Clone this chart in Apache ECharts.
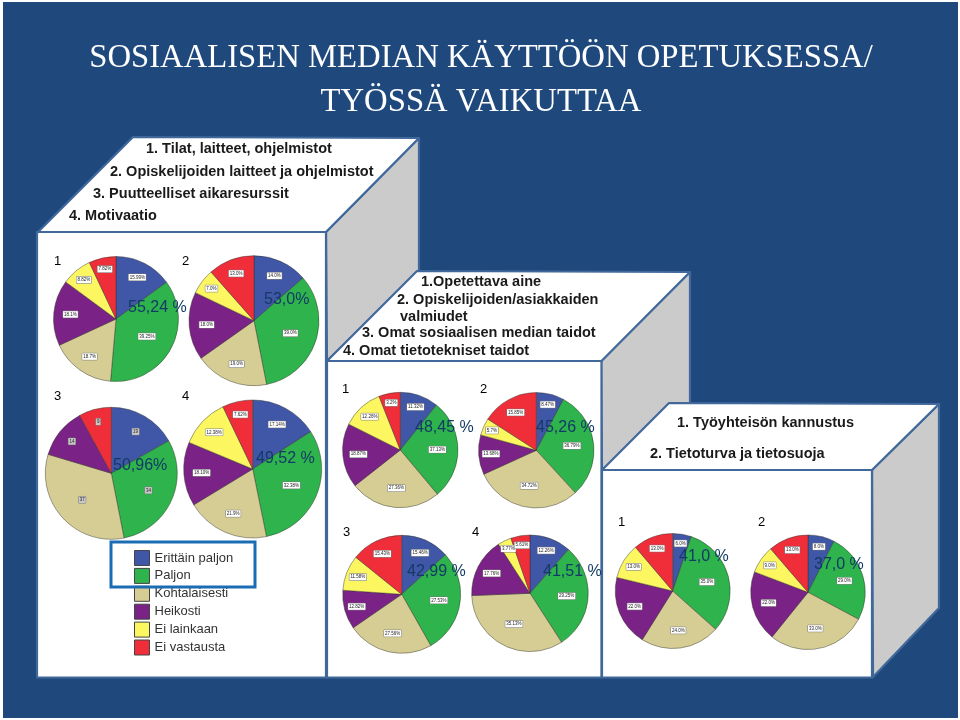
<!DOCTYPE html>
<html><head><meta charset="utf-8">
<style>html,body{margin:0;padding:0;background:#fff}#c{width:960px;height:720px}</style>
<script src="https://cdn.jsdelivr.net/npm/echarts@6/dist/echarts.min.js"></script>
</head><body><div id="c"></div>
<script>
const categories = ['Erittäin paljon','Paljon','Kohtalaisesti','Heikosti','Ei lainkaan','Ei vastausta'];
const colors = ['#3f57a6','#2fb34c','#d6cd95','#7a2285','#fcf660','#ef2e3a'];

// Slice values, one list per pie
const tilat1 = [15.0,36.4,16.7,17.0,7.9,7.0];
const tilat2 = [13.6,33.3,18.3,16.9,6.4,11.5];
const tilat3 = [19,34,37,14,0,9];
const tilat4 = [15.9,30.9,19.5,15.0,11.6,7.1];
const taidot1 = [10.8,28.1,25.5,18.0,11.6,6.0];
const taidot2 = [7.8,30.4,30.0,11.1,4.8,15.9];
const taidot3 = [13.3,28.5,23.6,10.7,9.7,14.2];
const taidot4 = [11.5,29.4,33.5,16.5,3.8,5.3];
const yhteiso1 = [5.2,31.4,22.3,19.9,10.0,11.2];
const yhteiso2 = [7.5,25.3,28.0,20.0,7.9,11.3];

// Small slice labels as printed on the pies
const labels1 = ['15.99%','39.25%','18.7%','18.1%','8.82%','7.82%'];
const labels2 = ['14.0%','39.0%','19.0%','18.0%','7.0%','13.0%'];
const labels3 = ['19','34','37','14','','9'];
const labels4 = ['17.14%','32.38%','21.9%','18.10%','12.38%','7.62%'];
const labels5 = ['11.32%','37.13%','27.36%','18.87%','12.26%','3.2%'];
const labels6 = ['8.47%','36.79%','34.72%','13.68%','5.7%','15.85%'];
const labels7 = ['15.46%','27.53%','27.56%','12.82%','11.58%','15.43%'];
const labels8 = ['12.26%','29.25%','35.13%','17.76%','3.77%','5.61%'];
const labels9 = ['6.0%','35.0%','24.0%','22.0%','13.0%','13.0%'];
const labels10 = ['8.0%','29.0%','33.0%','22.0%','9.0%','13.0%'];

const totals = ['55,24 %','53,0%','50,96%','49,52 %','48,45 %','45,26 %','42,99 %','41,51 %','41,0 %','37,0 %'];
const pieNumbers = ['1','2','3','4','1','2','3','4','1','2'];
const box1Lines = ['1. Tilat, laitteet, ohjelmistot','2. Opiskelijoiden laitteet ja ohjelmistot','3. Puutteelliset aikaresurssit','4. Motivaatio'];
const box2Lines = ['1.Opetettava aine','2. Opiskelijoiden/asiakkaiden','valmiudet','3. Omat sosiaalisen median taidot','4. Omat tietotekniset taidot'];
const box3Lines = ['1. Työyhteisön kannustus','2. Tietoturva ja tietosuoja'];

// Layout (kept apart from the values)
const pieValues = [tilat1,tilat2,tilat3,tilat4,taidot1,taidot2,taidot3,taidot4,yhteiso1,yhteiso2];
const pieLabels = [labels1,labels2,labels3,labels4,labels5,labels6,labels7,labels8,labels9,labels10];
const pieGeom = [[116,319,62.5],[254,320.7,65],[111.3,473.3,66],[252.7,469,69],[400.3,450,57.7],[536.3,450.3,57.7],[401.7,594.3,59],[530,593.3,58.3],[672.7,591,57.5],[808,592.3,57.3]];
const totalPos = [[128,308],[264,300],[113,466],[256,459],[415,428],[536,428],[407,572],[543,572],[679,557],[814,565]];
const numberPos = [[54,261],[182,261],[54,396],[182,396],[342,389],[480,389],[343,532],[472,532],[618,522],[758,522]];
const box1Pos = [[146,149],[110,172],[93,194],[69,216]];
const box2Pos = [[421,282],[397,299.5],[400,317],[362,333],[343,351]];
const box3Pos = [[677,423],[650,454]];

const series = pieValues.map((vals,i)=>{
  const [cx,cy,r]=pieGeom[i];
  const shown = categories.map((n,k)=>({name:n,value:vals[k],itemStyle:{color:colors[k]}})).filter(d=>d.value>0);
  const sum = shown.reduce((a,d)=>a+d.value,0);
  return {
    type:'pie', center:[cx,cy], radius:[0,r], startAngle:90, animation:false, silent:true,
    avoidLabelOverlap:false,
    itemStyle:{borderColor:'rgba(50,50,40,0.75)',borderWidth:0.6},
    label:{show:true,position:'inside',fontSize:4.5,fontFamily:'Liberation Sans',color:'#222',
      backgroundColor:i===2?'#c8c8c8':'#fff',borderColor:'#777',borderWidth:0.5,padding:[1,1,0.5,1],
      formatter:p=>pieLabels[i][categories.indexOf(p.name)]},
    labelLine:{show:false},
    labelLayout:p=>{
      const lx=p.labelRect.x+p.labelRect.width/2, ly=p.labelRect.y+p.labelRect.height/2;
      const f=Math.max(0,0.6-1.55*shown[p.dataIndex].value/sum);
      return {dx:(lx-cx)*f,dy:(ly-cy)*f};
    },
    data:shown
  };
});

const border='#40689a', grey='#cbcbcb';
const poly=(pts,fill)=>({type:'polygon',shape:{points:pts},style:{fill,stroke:border,lineWidth:2.2,lineJoin:'round'}});
const txt=(t,p,size,color,z,weight)=>({type:'text',x:p[0],y:p[1],z:z||20,style:{text:t,fill:color,font:(weight||'normal')+' '+size+'px "Liberation Sans", Arial',verticalAlign:'middle'}});

const graphic=[
  {type:'rect',shape:{x:3,y:2,width:955,height:716},style:{fill:'#1f497d'},z:-10},
  // side faces
  poly([[326,232],[419,138],[419,272],[327,361]],grey),
  poly([[601,361],[690,272],[690,404],[602,470]],grey),
  poly([[872,470],[939,404],[939,608],[873,677]],grey),
  // top faces
  poly([[133,137],[419,138],[326,232],[38,232]],'#fff'),
  poly([[417,271],[690,272],[601.5,361],[327,361]],'#fff'),
  poly([[669,403],[939,404],[872,470],[602,470]],'#fff'),
  // front faces
  {type:'rect',shape:{x:37,y:232,width:289,height:445.5},style:{fill:'#fff',stroke:border,lineWidth:2.2}},
  {type:'rect',shape:{x:327,y:361,width:274.5,height:316.5},style:{fill:'#fff',stroke:border,lineWidth:2.2}},
  {type:'rect',shape:{x:602,y:470,width:270,height:207.5},style:{fill:'#fff',stroke:border,lineWidth:2.2}},
  // highlight round the first two legend rows
  {type:'rect',z:50,shape:{x:111,y:542,width:144,height:45},style:{fill:'none',stroke:'#1a6db3',lineWidth:3}},
];
totals.forEach((t,i)=>graphic.push(txt(t,totalPos[i],16,'#123a66',60)));
pieNumbers.forEach((t,i)=>graphic.push(txt(t,numberPos[i],13,'#000',20)));
box1Lines.forEach((t,i)=>graphic.push(txt(t,box1Pos[i],14.5,'#1a1a1a',20,'bold')));
box2Lines.forEach((t,i)=>graphic.push(txt(t,box2Pos[i],14.5,'#1a1a1a',20,'bold')));
box3Lines.forEach((t,i)=>graphic.push(txt(t,box3Pos[i],14.5,'#1a1a1a',20,'bold')));

const chart=echarts.init(document.getElementById('c'),null,{renderer:'canvas'});
chart.setOption({
  animation:false,
  backgroundColor:'#fff',
  title:{text:'SOSIAALISEN MEDIAN KÄYTTÖÖN OPETUKSESSA/\nTYÖSSÄ VAIKUTTAA',left:476,top:31,
    textAlign:'center',
    textStyle:{color:'#fff',fontFamily:'Liberation Serif',fontWeight:'normal',fontSize:32.7,lineHeight:44}},
  legend:{orient:'vertical',left:129,top:545,itemWidth:15,itemHeight:15,itemGap:1.9,selectedMode:false,
    icon:'rect',data:categories,
    itemStyle:{borderColor:'#444',borderWidth:1},
    textStyle:{fontFamily:'Liberation Sans',fontSize:13,color:'#333'}},
  series,
  graphic
});
</script></body></html>
